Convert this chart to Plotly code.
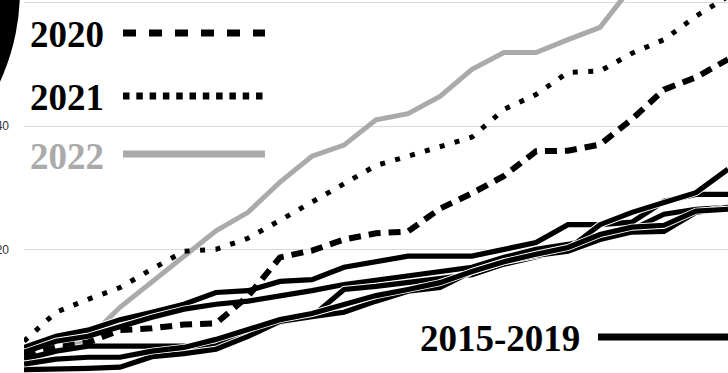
import plotly.graph_objects as go

# ---------------- data ----------------
weeks = list(range(1, 24))

y2020 = [2.8, 4.1, 4.9, 6.9, 7.2, 7.8, 8.0, 12.4, 18.7, 19.8, 21.6, 22.6, 22.9,
         26.6, 29.1, 31.9, 35.9, 36.0, 37.0, 41.1, 45.9, 47.9, 50.8]
y2021 = [5.1, 9.8, 11.9, 13.8, 16.8, 19.7, 20.0, 21.8, 24.7, 27.6, 30.7, 33.6, 35.1,
         36.7, 38.2, 42.7, 45.1, 48.7, 48.9, 51.8, 54.0, 57.8, 61.0]
y2022 = [1.5, 3.5, 5.5, 10.6, 14.7, 18.7, 23.0, 26.0, 30.9, 35.1, 36.9, 41.0, 42.0,
         44.8, 49.2, 51.9, 51.9, 54.0, 56.0, 62.6]

y2015 = [4.1, 5.9, 6.9, 8.6, 9.8, 11.1, 13.0, 13.3, 14.8, 15.1, 17.1, 17.9, 18.9,
         18.9, 18.9, 20.0, 21.1, 24.0, 24.0, 24.4, 27.8, 28.9, 28.9]
y2016 = [3.3, 5.1, 5.9, 7.5, 9.0, 10.3, 11.1, 11.6, 12.4, 13.3, 14.3, 15.0, 15.8,
         16.6, 17.1, 18.7, 20.0, 20.8, 21.9, 23.2, 25.7, 26.5, 26.8]
y2017 = [2.2, 3.5, 4.3, 4.3, 4.3, 4.3, 4.3, 7.0, 8.2, 9.1, 13.5, 14.0, 14.6,
         15.1, 15.9, 17.6, 18.7, 20.0, 24.0, 26.0, 27.6, 29.2, 33.0]
y2018 = [0.5, 0.5, 0.7, 0.9, 2.6, 3.1, 3.8, 5.9, 8.3, 9.1, 9.8, 11.6, 13.2,
         13.8, 16.4, 18.0, 19.0, 19.7, 21.6, 22.8, 22.9, 26.0, 26.8]
y2019 = [1.4, 2.2, 2.5, 2.5, 3.5, 4.1, 5.4, 7.0, 8.6, 9.6, 11.1, 12.5, 13.5,
         14.6, 16.4, 18.0, 19.2, 20.3, 22.4, 23.6, 23.9, 26.2, 26.5]
baseline_years = [y2015, y2016, y2017, y2018, y2019]

y_ticks = [0, 20, 40, 60]
legend_labels = ["2020", "2021", "2022", "2015-2019"]

# ---------------- figure ----------------
W, H = 728, 373
ML = 24
GRAY = "#aaaaaa"


def px(x):
    return (x - ML) / (W - ML)


def py(y):
    return 1 - y / H


fig = go.Figure()

fig.add_trace(go.Scatter(x=weeks[:len(y2022)], y=y2022, mode="lines",
                         line=dict(color=GRAY, width=5), hoverinfo="skip"))

for ys in baseline_years:
    fig.add_trace(go.Scatter(x=weeks, y=ys, mode="lines",
                             line=dict(color="white", width=7), hoverinfo="skip"))
    fig.add_trace(go.Scatter(x=weeks, y=ys, mode="lines",
                             line=dict(color="black", width=5.2), hoverinfo="skip"))

fig.add_trace(go.Scatter(x=weeks, y=y2020, mode="lines",
                         line=dict(color="black", width=6, dash="12px,8px"),
                         hoverinfo="skip"))
fig.add_trace(go.Scatter(x=weeks, y=y2021, mode="lines",
                         line=dict(color="black", width=5, dash="5px,10.5px"),
                         hoverinfo="skip"))

# legend-like labels
font_txt = dict(family="Liberation Serif", size=37, color="black")
ann = []
shapes = []
leg = [
    (legend_labels[0], 28, 35, "black", dict(dash="13px,13px", color="black", width=7)),
    (legend_labels[1], 28, 98, "black", dict(dash="6.5px,6.8px", color="black", width=7)),
    (legend_labels[2], 28, 156, GRAY, dict(color=GRAY, width=7)),
]
for txt, x, y, col, ln in leg:
    ann.append(dict(text="<b>%s</b>" % txt, x=px(x), y=py(y), xref="paper", yref="paper",
                    xanchor="left", yanchor="middle", showarrow=False,
                    font=dict(family="Liberation Serif", size=37, color=col)))
    shapes.append(dict(type="line", xref="paper", yref="paper",
                       x0=px(123), x1=px(265), y0=py(y - 2), y1=py(y - 2), line=ln))

ann.append(dict(text="<b>%s</b>" % legend_labels[3], x=px(418), y=py(338), xref="paper",
                yref="paper", xanchor="left", yanchor="middle", showarrow=False,
                font=font_txt))
shapes.append(dict(type="line", xref="paper", yref="paper",
                   x0=px(598), x1=px(740), y0=py(337), y1=py(337),
                   line=dict(color="black", width=7)))

# black blob at the top-left corner
shapes.append(dict(type="circle", xref="paper", yref="paper",
                   x0=px(-420), x1=px(20), y0=py(-230), y1=py(210),
                   fillcolor="black", line=dict(width=0), layer="above"))

fig.update_layout(
    width=W, height=H,
    margin=dict(l=ML, r=0, t=0, b=0, autoexpand=False),
    paper_bgcolor="white", plot_bgcolor="white",
    showlegend=False,
    annotations=ann, shapes=shapes,
    xaxis=dict(range=[1, 23], showgrid=False, zeroline=False, showticklabels=False,
               showline=False, ticks="", automargin=False),
    yaxis=dict(range=[-0.05, 60.43], tickvals=y_ticks, showgrid=True,
               gridcolor="#d9d9d9", gridwidth=1, zeroline=False, showline=False,
               ticks="", ticklabelstandoff=14, automargin=False,
               tickfont=dict(family="Liberation Sans", size=12, color="#333333")),
)

fig.write_html(
    "out.html",
    config={"displayModeBar": False, "staticPlot": True},
    post_script="document.body.style.margin='0';document.body.style.overflow='hidden';",
)
